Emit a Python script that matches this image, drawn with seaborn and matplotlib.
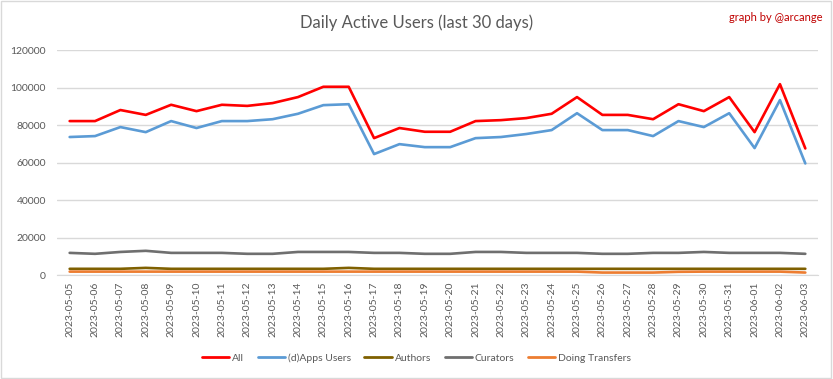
import pandas as pd
import matplotlib.pyplot as plt
import seaborn as sns

dias = ['2023-05-05', '2023-05-06', '2023-05-07', '2023-05-08', '2023-05-09', '2023-05-10',
        '2023-05-11', '2023-05-12', '2023-05-13', '2023-05-14', '2023-05-15', '2023-05-16',
        '2023-05-17', '2023-05-18', '2023-05-19', '2023-05-20', '2023-05-21', '2023-05-22',
        '2023-05-23', '2023-05-24', '2023-05-25', '2023-05-26', '2023-05-27', '2023-05-28',
        '2023-05-29', '2023-05-30', '2023-05-31', '2023-06-01', '2023-06-02', '2023-06-03']

todos = [82100, 82100, 88000, 85400, 90800, 87400, 90800, 90200, 91700, 94900, 100400, 100400,
         73000, 78400, 76400, 76400, 82100, 82600, 83700, 86000, 94900, 85400, 85400, 83100,
         91100, 87400, 94900, 76200, 101800, 67500]
dapps = [73600, 74100, 78900, 76200, 82100, 78400, 82100, 82100, 83100, 86000, 90600, 91100,
         64500, 69800, 68200, 68200, 73000, 73600, 75200, 77300, 86300, 77300, 77300, 74100,
         82100, 78900, 86300, 67700, 93300, 59500]
autores = [3300, 3300, 3300, 3800, 3300, 3300, 3300, 3300, 3300, 3300, 3300, 3800,
           3300, 3300, 3300, 3300, 3300, 3300, 3300, 3300, 3300, 3300, 3300, 3300,
           3300, 3300, 3300, 3300, 3300, 3300]
curadores = [11800, 11300, 12300, 12900, 11800, 11800, 11800, 11300, 11300, 12300, 12300, 12300,
             11800, 11800, 11300, 11300, 12300, 12300, 11800, 11800, 11800, 11300, 11300, 11800,
             11800, 12300, 11800, 11800, 11800, 11300]
transferencias = [1800, 1800, 1800, 1800, 1800, 1800, 1800, 1800, 1800, 1800, 1800, 1800,
                  1800, 1800, 1800, 1800, 1800, 1800, 1800, 1800, 1800, 1300, 1300, 1300,
                  1700, 1800, 1800, 1800, 1800, 1300]

series = {'All': todos, '(d)Apps Users': dapps, 'Authors': autores,
          'Curators': curadores, 'Doing Transfers': transferencias}
colores = {'All': '#ff0000', '(d)Apps Users': '#5b9bd5', 'Authors': '#7f6000',
           'Curators': '#6f6f6f', 'Doing Transfers': '#ed7d31'}

df = pd.DataFrame(series)
df['DIA'] = dias
largo = df.melt(id_vars='DIA', var_name='SERIE', value_name='USUARIOS')

sns.set_style('white')
plt.rcParams['font.family'] = ['Lato', 'DejaVu Sans']

fig = plt.figure(figsize=(8.33, 3.79), dpi=100)
ax = fig.add_axes([0.0684, 0.2744, 0.9136, 0.5936])

sns.lineplot(data=largo, x='DIA', y='USUARIOS', hue='SERIE', palette=colores,
             linewidth=1.9, ax=ax, sort=False, legend=False)

ax.set_xlim(-0.5, len(dias) - 0.5)
ax.set_ylim(0, 120000)
ax.set_yticks(range(0, 120001, 20000))
ax.yaxis.grid(True, color='#d9d9d9', linewidth=1)
ax.set_axisbelow(True)
for lado in ['top', 'right', 'left']:
    ax.spines[lado].set_visible(False)
ax.spines['bottom'].set_color('#d9d9d9')
ax.tick_params(axis='x', rotation=90, labelsize=7.5, colors='#595959', length=0, pad=5)
ax.tick_params(axis='y', labelsize=7.5, colors='#595959', length=0, pad=8)
ax.set_xlabel('')
ax.set_ylabel('')

fig.text(0.5, 0.94, 'Daily Active Users (last 30 days)', fontsize=12, color='#595959',
         ha='center', va='center')
fig.text(0.987, 0.955, 'graph by @arcange', color='#c00000', fontsize=8, ha='right', va='center')

manejadores = [plt.Line2D([], [], color=colores[s], linewidth=2) for s in series]
fig.legend(manejadores, list(series), loc='center', bbox_to_anchor=(0.5, 0.055), ncol=5,
           frameon=False, fontsize=7.5, labelcolor='#595959', handlelength=2.6,
           columnspacing=1.3, handletextpad=0.3)

fig.patches.append(plt.Rectangle((0.001, 0.002), 0.997, 0.995, transform=fig.transFigure,
                                 fill=False, edgecolor='#d9d9d9', linewidth=1))

fig.savefig('out.png', dpi=100, facecolor='white')
